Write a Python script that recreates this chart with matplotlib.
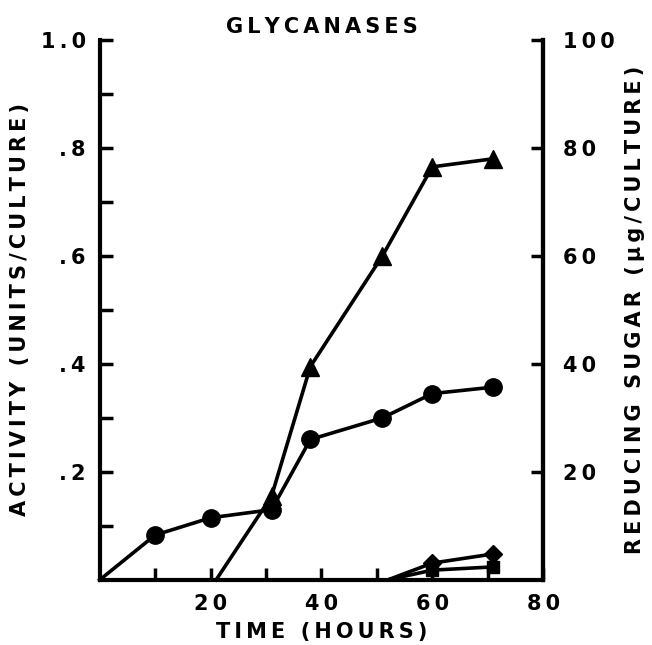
import matplotlib.pyplot as plt
import numpy as np

# --- データ ---
circle_t = [0, 10, 20, 31, 38, 51, 60, 71]
circle_v = [0.0, 0.083, 0.115, 0.13, 0.26, 0.30, 0.345, 0.357]

triangle_t = [21, 31, 38, 51, 60, 71]
triangle_v = [0.0, 0.155, 0.395, 0.60, 0.765, 0.78]

diamond_t = [52, 60, 71]
diamond_v = [0.0, 0.031, 0.048]

square_t = [52, 60, 71]
square_v = [0.0, 0.018, 0.024]

x_ticks = [20, 40, 60, 80]
y_ticks = [0.2, 0.4, 0.6, 0.8, 1.0]
y_labels = ['.2', '.4', '.6', '.8', '1.0']
y2_ticks = [20, 40, 60, 80, 100]

FONT = 'DejaVu Sans'
FS = 15


def spaced(s):
    # 文字間を広げる（原図の字間に合わせる）
    return '\u2009'.join(s)


fig = plt.figure(figsize=(6.52, 6.45), dpi=100)
ax = fig.add_axes([0.153, 0.101, 0.680, 0.837])

lw = 2.6
ax.plot(circle_t, circle_v, color='black', lw=lw, marker='o', ms=12.5,
        markevery=list(range(1, len(circle_t))), clip_on=False, zorder=3)
ax.plot(triangle_t, triangle_v, color='black', lw=lw, marker='^', ms=13,
        markevery=list(range(1, len(triangle_t))), clip_on=False, zorder=3)
ax.plot(diamond_t, diamond_v, color='black', lw=lw, marker='D', ms=9,
        markevery=[1, 2], clip_on=False, zorder=3)
ax.plot(square_t, square_v, color='black', lw=lw, marker='s', ms=9,
        markevery=[1, 2], clip_on=False, zorder=3)

ax.set_xlim(0, 80)
ax.set_ylim(0, 1.0)

ax.spines['top'].set_visible(False)
for s in ['left', 'right', 'bottom']:
    ax.spines[s].set_linewidth(3)

ax.set_xticks(np.arange(10, 81, 10), minor=True)
ax.set_xticks(x_ticks)
ax.set_xticklabels([spaced(str(v)) for v in x_ticks], fontsize=FS, fontweight='bold', family=FONT)
ax.set_yticks(np.arange(0.1, 1.01, 0.1), minor=True)
ax.set_yticks(y_ticks)
ax.set_yticklabels([spaced(v) for v in y_labels], fontsize=FS, fontweight='bold', family=FONT)
ax.tick_params(which='both', direction='in', length=9, width=2.5, pad=10)

ax2 = ax.twinx()
ax2.set_ylim(0, 100)
ax2.spines['top'].set_visible(False)
ax2.spines['right'].set_linewidth(3)
ax2.set_yticks(y2_ticks)
ax2.set_yticklabels([spaced(str(v)) for v in y2_ticks], fontsize=FS, fontweight='bold', family=FONT)
ax2.tick_params(direction='in', length=9, width=2.5, pad=14)

ax.set_xlabel(spaced('TIME (HOURS)'), fontsize=FS, fontweight='bold', family=FONT, labelpad=6)
ax.set_ylabel(spaced('ACTIVITY (UNITS/CULTURE)'), fontsize=FS, fontweight='bold', family=FONT, labelpad=8)
ax2.set_ylabel(spaced('REDUCING SUGAR (μg/CULTURE)'), fontsize=FS, fontweight='bold', family=FONT,
               rotation=90, labelpad=8)
ax.set_title(spaced('GLYCANASES'), fontsize=FS, fontweight='bold', family=FONT, pad=5)

fig.savefig('out.png', dpi=100)
